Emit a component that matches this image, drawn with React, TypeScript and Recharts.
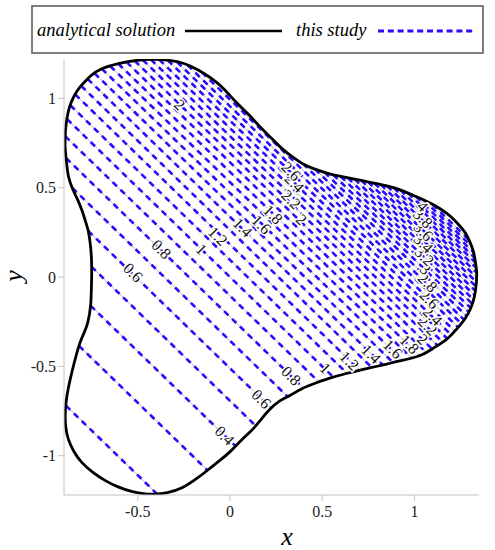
import React from 'react';
import { ComposedChart, Line, Scatter, XAxis, YAxis } from 'recharts';

const xTicks = [-0.5, 0, 0.5, 1];
const yTicks = [-1, -0.5, 0, 0.5, 1];

// contour levels of u = exp(x + y)
const levels = [
  0.2, 0.3, 0.4, 0.5, 0.6, 0.7, 0.8, 0.9, 1, 1.1, 1.2, 1.3, 1.4, 1.5, 1.6, 1.7, 1.8, 1.9, 2, 2.1, 2.2, 2.3,
  2.4, 2.5, 2.6, 2.7, 2.8, 2.9, 3, 3.1, 3.2, 3.3, 3.4, 3.5, 3.6, 3.7, 3.8, 3.9, 4, 4.1, 4.2, 4.3, 4.4, 4.5,
];

// domain outline (closed loop)
const boundary: [number, number][] = [
  [-0.75, 0.0], [-0.752, -0.08], [-0.756, -0.162], [-0.77, -0.25], [-0.79, -0.31], [-0.814, -0.37],
  [-0.842, -0.47], [-0.866, -0.571], [-0.884, -0.665], [-0.893, -0.757], [-0.891, -0.835], [-0.877, -0.906],
  [-0.847, -0.975], [-0.805, -1.036], [-0.745, -1.092], [-0.678, -1.138], [-0.61, -1.173], [-0.534, -1.2],
  [-0.47, -1.212], [-0.408, -1.215], [-0.34, -1.207], [-0.26, -1.18], [-0.182, -1.129], [-0.12, -1.08],
  [-0.06, -1.03], [-0.002, -0.98], [0.06, -0.915], [0.125, -0.85], [0.17, -0.795], [0.215, -0.742],
  [0.268, -0.695], [0.323, -0.664], [0.39, -0.625], [0.468, -0.592], [0.55, -0.563], [0.63, -0.54],
  [0.7, -0.522], [0.774, -0.505], [0.85, -0.487], [0.92, -0.47], [1.027, -0.441], [1.1, -0.4],
  [1.172, -0.35], [1.23, -0.29], [1.275, -0.232], [1.305, -0.175], [1.325, -0.11], [1.335, -0.04],
  [1.337, 0.03], [1.328, 0.1], [1.316, 0.155], [1.29, 0.22], [1.262, 0.266], [1.22, 0.315],
  [1.172, 0.359], [1.11, 0.4], [1.045, 0.434], [0.98, 0.463], [0.919, 0.489], [0.85, 0.51],
  [0.774, 0.527], [0.69, 0.545], [0.594, 0.564], [0.53, 0.58], [0.468, 0.601], [0.41, 0.625],
  [0.36, 0.657], [0.31, 0.695], [0.269, 0.731], [0.215, 0.787], [0.161, 0.843], [0.105, 0.905],
  [0.053, 0.958], [0.0, 1.015], [-0.047, 1.066], [-0.11, 1.118], [-0.173, 1.159], [-0.25, 1.195],
  [-0.33, 1.212], [-0.41, 1.218], [-0.5, 1.213], [-0.6, 1.195], [-0.7, 1.163], [-0.75, 1.13],
  [-0.79, 1.09], [-0.83, 1.04], [-0.86, 0.98], [-0.878, 0.92], [-0.889, 0.85], [-0.894, 0.78],
  [-0.893, 0.71], [-0.886, 0.64], [-0.876, 0.564], [-0.852, 0.49], [-0.825, 0.43], [-0.8, 0.365],
  [-0.783, 0.31], [-0.769, 0.26], [-0.758, 0.19], [-0.751, 0.1], [-0.75, 0.0],
];

// contour label positions as they appear in the picture
const contourLabels = [
  { x: -0.029, y: -0.887, t: '0.4' },
  { x: 0.17, y: -0.682, t: '0.6' },
  { x: 0.332, y: -0.552, t: '0.8' },
  { x: 0.518, y: -0.511, t: '1' },
  { x: 0.648, y: -0.469, t: '1.2' },
  { x: 0.766, y: -0.431, t: '1.4' },
  { x: 0.883, y: -0.403, t: '1.6' },
  { x: 0.973, y: -0.376, t: '1.8' },
  { x: 1.045, y: -0.348, t: '2' },
  { x: 1.072, y: -0.273, t: '2.2' },
  { x: 1.099, y: -0.218, t: '2.4' },
  { x: 1.081, y: -0.124, t: '2.6' },
  { x: 1.072, y: -0.031, t: '2.8' },
  { x: 1.06, y: 0.043, t: '3' },
  { x: 1.054, y: 0.116, t: '3.2' },
  { x: 1.049, y: 0.188, t: '3.4' },
  { x: 1.049, y: 0.255, t: '3.6' },
  { x: 1.046, y: 0.328, t: '3.8' },
  { x: 1.045, y: 0.396, t: '4' },
  { x: -0.525, y: 0.025, t: '0.6' },
  { x: -0.371, y: 0.155, t: '0.8' },
  { x: -0.155, y: 0.155, t: '1' },
  { x: -0.065, y: 0.229, t: '1.2' },
  { x: 0.069, y: 0.277, t: '1.4' },
  { x: 0.17, y: 0.294, t: '1.6' },
  { x: 0.233, y: 0.35, t: '1.8' },
  { x: 0.387, y: 0.322, t: '2' },
  { x: 0.332, y: 0.434, t: '2.2' },
  { x: 0.35, y: 0.527, t: '2.4' },
  { x: 0.332, y: 0.592, t: '2.6' },
  { x: -0.272, y: 0.964, t: '2' },
];

const outline = boundary.map(([x, y]) => ({ x, y }));

// pieces of each straight contour x + y = ln(level) that lie inside the outline
const segments: { x: number; y: number }[][] = [];
levels.forEach((lv) => {
  const s = Math.log(lv);
  const hits: { x: number; y: number }[] = [];
  for (let i = 0; i < boundary.length - 1; i++) {
    const [px, py] = boundary[i];
    const [qx, qy] = boundary[i + 1];
    const fp = px + py - s;
    const fq = qx + qy - s;
    if (fp < 0 !== fq < 0) {
      const t = fp / (fp - fq);
      hits.push({ x: px + t * (qx - px), y: py + t * (qy - py) });
    }
  }
  hits.sort((a, b) => a.x - b.x);
  for (let i = 0; i + 1 < hits.length; i += 2) segments.push([hits[i], hits[i + 1]]);
});

const serif = 'Liberation Serif, Tinos, Times New Roman, DejaVu Serif, serif';
const axisGray = '#c4c4c4';
const blue = '#2a0cff';
const tickStyle = { fill: '#222', fontSize: 16, style: { fontFamily: serif } };

const LabelShape = (props: any) => {
  const { cx, cy, payload } = props;
  return (
    <text
      x={cx}
      y={cy}
      transform={`rotate(45 ${cx} ${cy})`}
      textAnchor="middle"
      dominantBaseline="central"
      style={{ fontFamily: serif, fontSize: 16, paintOrder: 'stroke' }}
      stroke="#fff"
      strokeWidth={3}
      fill="#111"
    >
      {payload.t}
    </text>
  );
};

const App = () => {
  return (
    <div
      style={{
        position: 'absolute',
        left: 0,
        top: 0,
        width: 495,
        height: 550,
        background: '#fff',
        fontFamily: serif,
      }}
    >
      <ComposedChart width={495} height={550} margin={{ top: 59, right: 16, bottom: 0, left: 0 }}>
        <XAxis
          xAxisId="b"
          type="number"
          dataKey="x"
          domain={[-0.9, 1.35]}
          allowDataOverflow
          ticks={xTicks}
          height={55}
          stroke={axisGray}
          tickSize={6}
          tickMargin={5}
          tick={tickStyle}
        />
        <XAxis
          xAxisId="t"
          orientation="top"
          type="number"
          dataKey="x"
          domain={[-0.9, 1.35]}
          allowDataOverflow
          ticks={xTicks}
          height={0}
          stroke={axisGray}
          tickSize={6}
          tick={false}
        />
        <YAxis
          yAxisId="l"
          type="number"
          dataKey="y"
          domain={[-1.22, 1.22]}
          allowDataOverflow
          ticks={yTicks}
          width={64}
          stroke={axisGray}
          tickSize={6}
          tickMargin={2}
          tick={tickStyle}
        />
        <YAxis
          yAxisId="r"
          orientation="right"
          type="number"
          dataKey="y"
          domain={[-1.22, 1.22]}
          allowDataOverflow
          ticks={yTicks}
          width={0}
          stroke={axisGray}
          tickSize={6}
          tick={false}
        />
        {segments.map((seg, i) => (
          <Line
            key={'a' + i}
            xAxisId="b"
            yAxisId="l"
            data={seg}
            dataKey="y"
            type="linear"
            stroke="#bdbdbd"
            strokeWidth={1}
            dot={false}
            activeDot={false}
            isAnimationActive={false}
          />
        ))}
        {segments.map((seg, i) => (
          <Line
            key={'s' + i}
            xAxisId="b"
            yAxisId="l"
            data={seg}
            dataKey="y"
            type="linear"
            stroke={blue}
            strokeWidth={2.6}
            strokeDasharray="6 5"
            dot={false}
            activeDot={false}
            isAnimationActive={false}
          />
        ))}
        <Line
          xAxisId="b"
          yAxisId="l"
          data={outline}
          dataKey="y"
          type="natural"
          stroke="#000"
          strokeWidth={2.8}
          dot={false}
          activeDot={false}
          isAnimationActive={false}
        />
        <Scatter
          xAxisId="b"
          yAxisId="l"
          data={contourLabels}
          dataKey="y"
          shape={LabelShape}
          isAnimationActive={false}
        />
      </ComposedChart>
      <svg
        width={495}
        height={550}
        style={{ position: 'absolute', left: 0, top: 0, pointerEvents: 'none', fontFamily: serif }}
      >
        <rect x={32} y={6} width={451} height={47} fill="#fff" stroke="#555" strokeWidth={1.5} />
        <text x={37} y={36} style={{ fontFamily: serif, fontStyle: 'italic', fontSize: 18.5 }} fill="#000">
          analytical solution
        </text>
        <line x1={185} y1={31} x2={282} y2={31} stroke="#000" strokeWidth={2.6} />
        <text x={296} y={36} style={{ fontFamily: serif, fontStyle: 'italic', fontSize: 18.5 }} fill="#000">
          this study
        </text>
        <line x1={378} y1={31} x2={476} y2={31} stroke={blue} strokeWidth={3} strokeDasharray="6 3.8" />
        <text
          x={287}
          y={545}
          textAnchor="middle"
          style={{ fontFamily: serif, fontStyle: 'italic', fontSize: 26 }}
          fill="#000"
        >
          x
        </text>
        <text
          x={22}
          y={276}
          transform="rotate(-90 22 276)"
          textAnchor="middle"
          style={{ fontFamily: serif, fontStyle: 'italic', fontSize: 26 }}
          fill="#000"
        >
          y
        </text>
      </svg>
    </div>
  );
};

export default App;
